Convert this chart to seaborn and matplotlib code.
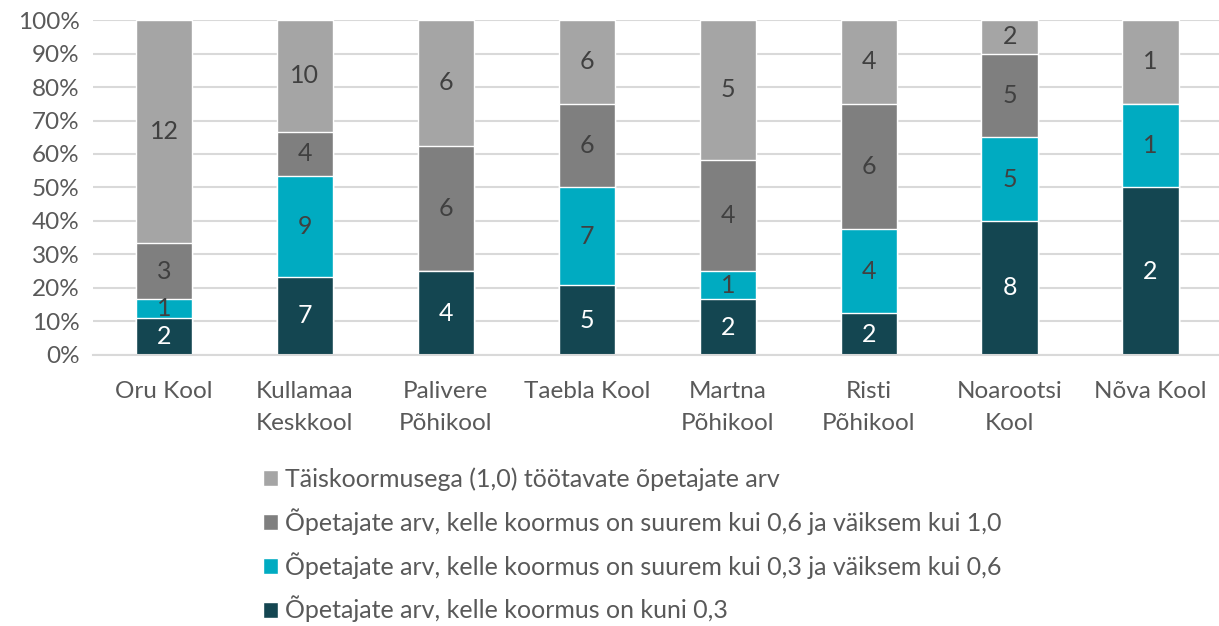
import numpy as np
import pandas as pd
import matplotlib.pyplot as plt
import seaborn as sns
from matplotlib.patches import Patch

schools = ['Oru Kool', 'Kullamaa\nKeskkool', 'Palivere\nPõhikool', 'Taebla Kool',
           'Martna\nPõhikool', 'Risti\nPõhikool', 'Noarootsi\nKool', 'Nõva Kool']
kuni03 = [2, 7, 4, 5, 2, 2, 8, 2]
k03_06 = [1, 9, 0, 7, 1, 4, 5, 1]
k06_10 = [3, 4, 6, 6, 4, 6, 5, 0]
tais = [12, 10, 6, 6, 5, 4, 2, 1]

series = ['Õpetajate arv, kelle koormus on kuni 0,3',
          'Õpetajate arv, kelle koormus on suurem kui 0,3 ja väiksem kui 0,6',
          'Õpetajate arv, kelle koormus on suurem kui 0,6 ja väiksem kui 1,0',
          'Täiskoormusega (1,0) töötavate õpetajate arv']
colors = ['#144651', '#00ABC1', '#7F7F7F', '#A5A5A5']
txt_colors = ['white', '#404040', '#404040', '#404040']

sns.set_style('white')
plt.rcParams['font.family'] = ['Lato', 'DejaVu Sans']

counts = np.array([kuni03, k03_06, k06_10, tais], dtype=float)
pct = counts / counts.sum(axis=0) * 100
cum = np.cumsum(pct, axis=0)

fig = plt.figure(figsize=(12.19, 6.26), dpi=100)
ax = fig.add_axes([0.0767, 0.433, 0.925, 0.535])

for i in range(3, -1, -1):
    df = pd.DataFrame({'kool': schools, 'v': cum[i]})
    sns.barplot(data=df, x='kool', y='v', color=colors[i], width=0.4,
                saturation=1, edgecolor='white', linewidth=1, ax=ax, zorder=2)

for i in range(4):
    for j in range(len(schools)):
        if counts[i, j] > 0:
            y = cum[i, j] - pct[i, j] / 2
            ax.text(j, y, str(int(counts[i, j])), ha='center', va='center',
                    fontsize=18, color=txt_colors[i], zorder=3)

ax.set_ylim(0, 100)
ax.set_xlim(-0.5, 7.5)
ax.set_yticks(range(0, 101, 10))
ax.set_yticklabels([f'{t}%' for t in range(0, 101, 10)])
ax.yaxis.grid(True, color='#D9D9D9', linewidth=1.5, zorder=0)
ax.set_axisbelow(True)
for s in ['top', 'right', 'left']:
    ax.spines[s].set_visible(False)
ax.spines['bottom'].set_color('#D9D9D9')
ax.spines['bottom'].set_linewidth(1.5)
ax.tick_params(axis='both', length=0, labelsize=17.5, colors='#595959', pad=10)
ax.tick_params(axis='x', pad=19)
plt.setp(ax.get_xticklabels(), linespacing=1.6)
ax.set_xlabel('')
ax.set_ylabel('')

handles = [Patch(facecolor=colors[i], label=series[i]) for i in range(3, -1, -1)]
fig.legend(handles=handles, loc='upper left', bbox_to_anchor=(0.197, 0.289),
           frameon=False, fontsize=18, handlelength=0.6, handleheight=0.6,
           handletextpad=0.3, labelspacing=0.68, labelcolor='#595959')

fig.savefig('out.png', dpi=100)
